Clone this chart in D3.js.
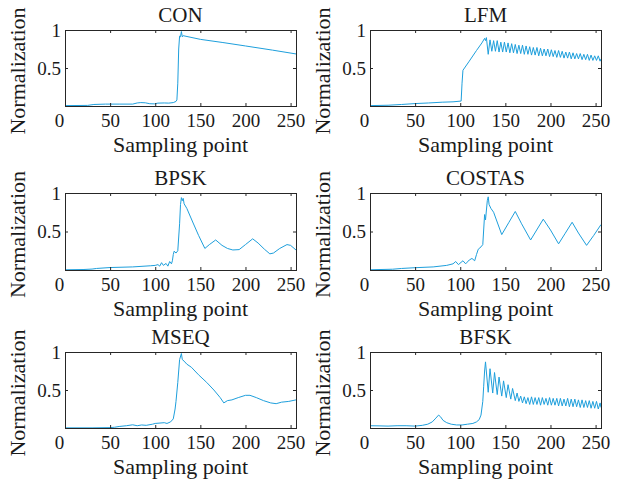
<!DOCTYPE html>
<html>
<head>
<meta charset="utf-8">
<script src="https://cdn.jsdelivr.net/npm/d3@7"></script>
<style>
  body { margin: 0; background: #fff; }
</style>
</head>
<body>
<div id="root"></div>
<script>
const titles = ["CON", "LFM", "BPSK", "COSTAS", "MSEQ", "BFSK"];
const xTicks = [0, 50, 100, 150, 200, 250];
const yTicks = [0.5, 1];

// [sampling point, normalized value]
const conData = [
  [0, 0.005], [25, 0.008], [32, 0.02], [45, 0.025], [60, 0.025], [75, 0.025],
  [80, 0.04], [84, 0.045], [89, 0.042], [94, 0.03], [99, 0.028], [103, 0.038],
  [110, 0.04], [115, 0.038], [120, 0.045], [123, 0.06], [124, 0.08], [125, 0.3],
  [126, 0.75], [127, 0.92], [128, 0.91], [129, 0.98], [130, 0.91], [131, 0.925],
  [150, 0.877], [175, 0.835], [200, 0.79], [230, 0.735], [256, 0.685]
];

const lfmData = [
  [0, 0.005], [20, 0.01], [35, 0.02], [50, 0.032], [65, 0.04], [80, 0.05],
  [92, 0.055], [101, 0.065], [102, 0.3], [103, 0.47], [110, 0.59], [118, 0.73],
  [124, 0.83], [127, 0.89], [128, 0.86], [129, 0.9], [131, 0.68],
  [133, 0.87], [135, 0.72], [137, 0.86], [139, 0.72], [141, 0.86], [143, 0.71],
  [145, 0.84], [147, 0.71], [149, 0.84], [151, 0.71], [153, 0.83], [155, 0.70],
  [157, 0.82], [159, 0.70], [161, 0.81], [163, 0.69], [165, 0.80], [167, 0.69],
  [169, 0.80], [171, 0.68], [173, 0.79], [175, 0.68], [177, 0.78], [179, 0.67],
  [181, 0.77], [183, 0.67], [185, 0.77], [187, 0.66], [189, 0.76], [191, 0.66],
  [193, 0.75], [195, 0.66], [197, 0.75], [199, 0.65], [201, 0.74], [203, 0.65],
  [205, 0.73], [207, 0.64], [209, 0.73], [211, 0.64], [213, 0.72], [215, 0.63],
  [217, 0.71], [219, 0.63], [221, 0.71], [223, 0.62], [225, 0.70], [227, 0.62],
  [229, 0.69], [231, 0.62], [233, 0.69], [235, 0.61], [237, 0.68], [239, 0.61],
  [241, 0.68], [243, 0.60], [245, 0.67], [247, 0.60], [249, 0.66], [251, 0.60],
  [253, 0.66], [255, 0.59], [256, 0.62]
];

const bpskData = [
  [0, 0.003], [20, 0.006], [30, 0.012], [35, 0.02], [50, 0.032], [75, 0.04],
  [95, 0.055], [100, 0.06], [103, 0.07], [105, 0.05], [107, 0.095], [109, 0.06],
  [112, 0.085], [114, 0.05], [116, 0.11], [118, 0.08], [119, 0.12], [120, 0.2],
  [121, 0.245], [123, 0.22], [125, 0.25], [127, 0.6], [128, 0.85], [129, 0.94],
  [130, 0.9], [131, 0.93], [132, 0.86], [135, 0.8], [142, 0.61], [148, 0.45],
  [155, 0.28], [160, 0.33], [167, 0.39], [174, 0.32], [180, 0.28], [186, 0.26],
  [193, 0.265], [200, 0.33], [208, 0.405], [214, 0.35], [221, 0.27], [227, 0.21],
  [231, 0.22], [238, 0.28], [246, 0.33], [250, 0.32], [256, 0.26]
];

const costasData = [
  [0, 0.003], [25, 0.01], [35, 0.02], [50, 0.03], [70, 0.04], [85, 0.06],
  [92, 0.08], [95, 0.11], [98, 0.07], [103, 0.12], [106, 0.08], [110, 0.13],
  [113, 0.15], [116, 0.12], [118, 0.2], [120, 0.27], [123, 0.3], [125, 0.33],
  [127, 0.72], [128, 0.65], [130, 0.9], [131, 0.95], [132, 0.85], [134, 0.8],
  [137, 0.75], [146, 0.46], [154, 0.62], [161, 0.76], [168, 0.6], [178, 0.39],
  [192, 0.66], [200, 0.52], [209, 0.34], [216, 0.47], [224, 0.62], [231, 0.48],
  [240, 0.32], [248, 0.45], [256, 0.59]
];

const mseqData = [
  [0, 0.002], [30, 0.002], [50, 0.005], [55, 0.01], [60, 0.02], [68, 0.03],
  [75, 0.042], [80, 0.03], [85, 0.04], [90, 0.035], [97, 0.05], [100, 0.06],
  [110, 0.07], [113, 0.06], [117, 0.08], [120, 0.12], [122, 0.25], [123, 0.35],
  [125, 0.6], [127, 0.9], [129, 0.98], [130, 0.9], [132, 0.88], [135, 0.84],
  [140, 0.8], [148, 0.7], [157, 0.6], [165, 0.5], [172, 0.4], [176, 0.33],
  [180, 0.36], [185, 0.37], [192, 0.4], [200, 0.43], [205, 0.43], [212, 0.4],
  [220, 0.36], [228, 0.33], [234, 0.32], [240, 0.34], [248, 0.35], [256, 0.37]
];

const bfskData = [
  [0, 0.03], [10, 0.028], [20, 0.025], [30, 0.03], [40, 0.03], [50, 0.025],
  [58, 0.035], [64, 0.05], [69, 0.08], [73, 0.13], [76, 0.17], [78, 0.15],
  [81, 0.1], [85, 0.07], [90, 0.05], [96, 0.04], [102, 0.04], [108, 0.05],
  [114, 0.06], [118, 0.08], [121, 0.11], [123, 0.17], [125, 0.35], [126, 0.55],
  [127, 0.75], [128, 0.87], [131, 0.47], [133, 0.78], [136, 0.46], [138, 0.73],
  [141, 0.44], [143, 0.67], [146, 0.42], [148, 0.62], [151, 0.4], [153, 0.57],
  [156, 0.38], [158, 0.52], [161, 0.36], [163, 0.46], [165, 0.35], [167, 0.42],
  [169, 0.33], [171, 0.41], [173, 0.32], [175, 0.4], [177, 0.31], [179, 0.41],
  [181, 0.31], [183, 0.4], [185, 0.31], [187, 0.4], [189, 0.3], [191, 0.4],
  [193, 0.31], [195, 0.39], [197, 0.3], [199, 0.4], [201, 0.3], [203, 0.39],
  [205, 0.3], [207, 0.39], [209, 0.29], [211, 0.39], [213, 0.29], [215, 0.38],
  [217, 0.29], [219, 0.39], [221, 0.28], [223, 0.38], [225, 0.28], [227, 0.38],
  [229, 0.28], [231, 0.37], [233, 0.27], [235, 0.37], [237, 0.27], [239, 0.36],
  [241, 0.27], [243, 0.36], [245, 0.26], [247, 0.35], [249, 0.26], [251, 0.35],
  [253, 0.25], [255, 0.33], [256, 0.27]
];

const seriesData = [conData, lfmData, bpskData, costasData, mseqData, bfskData];

const cols = [[65, 296], [370, 601]];
const rows = [[30, 106], [193, 270], [352, 428]];
const lineColor = "#1e9fdc";
const axisColor = "#262626";
const textColor = "#1a1a1a";
const serif = "'Liberation Serif', 'Times New Roman', serif";

const svg = d3
  .select("#root")
  .append("svg")
  .attr("width", 624)
  .attr("height", 482);

svg.append("rect").attr("width", 624).attr("height", 482).attr("fill", "#fff");

titles.forEach((title, i) => {
  const [x0, x1] = cols[i % 2];
  const [y0, y1] = rows[Math.floor(i / 2)];

  const x = d3.scaleLinear().domain([0, 256]).range([x0, x1]);
  const y = d3.scaleLinear().domain([0, 1]).range([y1, y0]);

  const g = svg.append("g");

  const line = d3
    .line()
    .x((d) => x(d[0]))
    .y((d) => y(d[1]));

  g.append("path")
    .datum(seriesData[i])
    .attr("fill", "none")
    .attr("stroke", lineColor)
    .attr("stroke-width", 1)
    .attr("stroke-linejoin", "round")
    .attr("d", line);

  const styleAxis = (a) => {
    a.attr("font-size", 19).attr("font-family", serif).attr("color", axisColor);
    a.select(".domain").remove();
    a.selectAll(".tick text").attr("fill", textColor);
  };

  // bottom axis with labels, ticks pointing inward
  g.append("g")
    .attr("transform", `translate(0, ${y1})`)
    .call(d3.axisBottom(x).tickValues(xTicks).tickSize(-3).tickPadding(8))
    .call(styleAxis)
    .selectAll(".tick text")
    .attr("dx", (d) => (d === 0 ? -6 : 0));

  g.append("g")
    .attr("transform", `translate(0, ${y0})`)
    .call(d3.axisTop(x).tickValues(xTicks).tickSize(-3).tickFormat(() => ""))
    .call(styleAxis);

  g.append("g")
    .attr("transform", `translate(${x0}, 0)`)
    .call(d3.axisLeft(y).tickValues(yTicks).tickSize(-3).tickPadding(4).tickFormat(d3.format("~g")))
    .call(styleAxis);

  g.append("g")
    .attr("transform", `translate(${x1}, 0)`)
    .call(d3.axisRight(y).tickValues(yTicks).tickSize(-3).tickFormat(() => ""))
    .call(styleAxis);

  g.append("rect")
    .attr("x", x0 + 0.5)
    .attr("y", y0 + 0.5)
    .attr("width", x1 - x0)
    .attr("height", y1 - y0)
    .attr("fill", "none")
    .attr("stroke", axisColor)
    .attr("stroke-width", 1);

  g.append("text")
    .attr("x", (x0 + x1) / 2)
    .attr("y", y0 - 8)
    .attr("text-anchor", "middle")
    .attr("font-family", serif)
    .attr("font-size", 21)
    .attr("fill", textColor)
    .text(title);

  g.append("text")
    .attr("x", (x0 + x1) / 2)
    .attr("y", y1 + 46)
    .attr("text-anchor", "middle")
    .attr("font-family", serif)
    .attr("font-size", 22)
    .attr("fill", textColor)
    .text("Sampling point");

  g.append("text")
    .attr("transform", `translate(${x0 - 40}, ${(y0 + y1) / 2 + 3}) rotate(-90)`)
    .attr("text-anchor", "middle")
    .attr("font-family", serif)
    .attr("font-size", 22)
    .attr("fill", textColor)
    .text("Normalization");
});
</script>
</body>
</html>
